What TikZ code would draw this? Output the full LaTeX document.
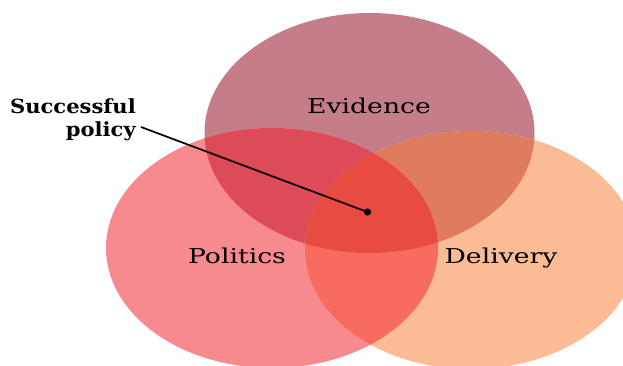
\documentclass[tikz,border=0pt]{standalone}
\usepackage{fontspec}
\setmainfont{DejaVu Serif}
\definecolor{eonly}{HTML}{C57D89}
\definecolor{ponly}{HTML}{F78A8F}
\definecolor{donly}{HTML}{FBBB95}
\definecolor{ep}{HTML}{DC4B57}
\definecolor{ed}{HTML}{E07C5E}
\definecolor{pd}{HTML}{F86C60}
\definecolor{epd}{HTML}{E84B40}
\tikzset{
  lbl/.style={font=\fontsize{20.5}{24}\selectfont, inner sep=0pt, anchor=base, xscale=1.3},
  callout/.style={font=\bfseries\fontsize{19.5}{23}\selectfont, inner sep=0pt, anchor=base east, xscale=1.08},
}
\def\Eell{(369.5,133) ellipse [x radius=165, y radius=120]}
\def\Pell{(272,248) ellipse [x radius=166, y radius=120]}
\def\Dell{(471,250) ellipse [x radius=166, y radius=119]}
\begin{document}
\begin{tikzpicture}[x=1pt,y=-1pt]
\useasboundingbox (0,0) rectangle (623,366);
\begin{scope}
\clip (0,0) rectangle (623,366);
\fill[eonly] \Eell;
\fill[ponly] \Pell;
\fill[donly] \Dell;
\begin{scope}\clip \Eell; \fill[ep] \Pell; \end{scope}
\begin{scope}\clip \Eell; \fill[ed] \Dell; \end{scope}
\begin{scope}\clip \Pell; \fill[pd] \Dell; \end{scope}
\begin{scope}\clip \Eell; \clip \Pell; \fill[epd] \Dell; \end{scope}
\end{scope}
\node[lbl] (ev) at (369,114) {Evidence};
\node[lbl] (po) at (237,263.5) {Politics};
\node[lbl] (de) at (501,263.5) {Delivery};
\node[callout] (s1) at (136,113.5) {Successful};
\node[callout] (s2) at (136,137) {policy};
\coordinate (sp) at (367.5,212);
\coordinate (st) at (141,127);
\draw[line width=1.7pt] (st) -- (sp);
\fill (sp) circle (3.6);
\end{tikzpicture}
\end{document}
